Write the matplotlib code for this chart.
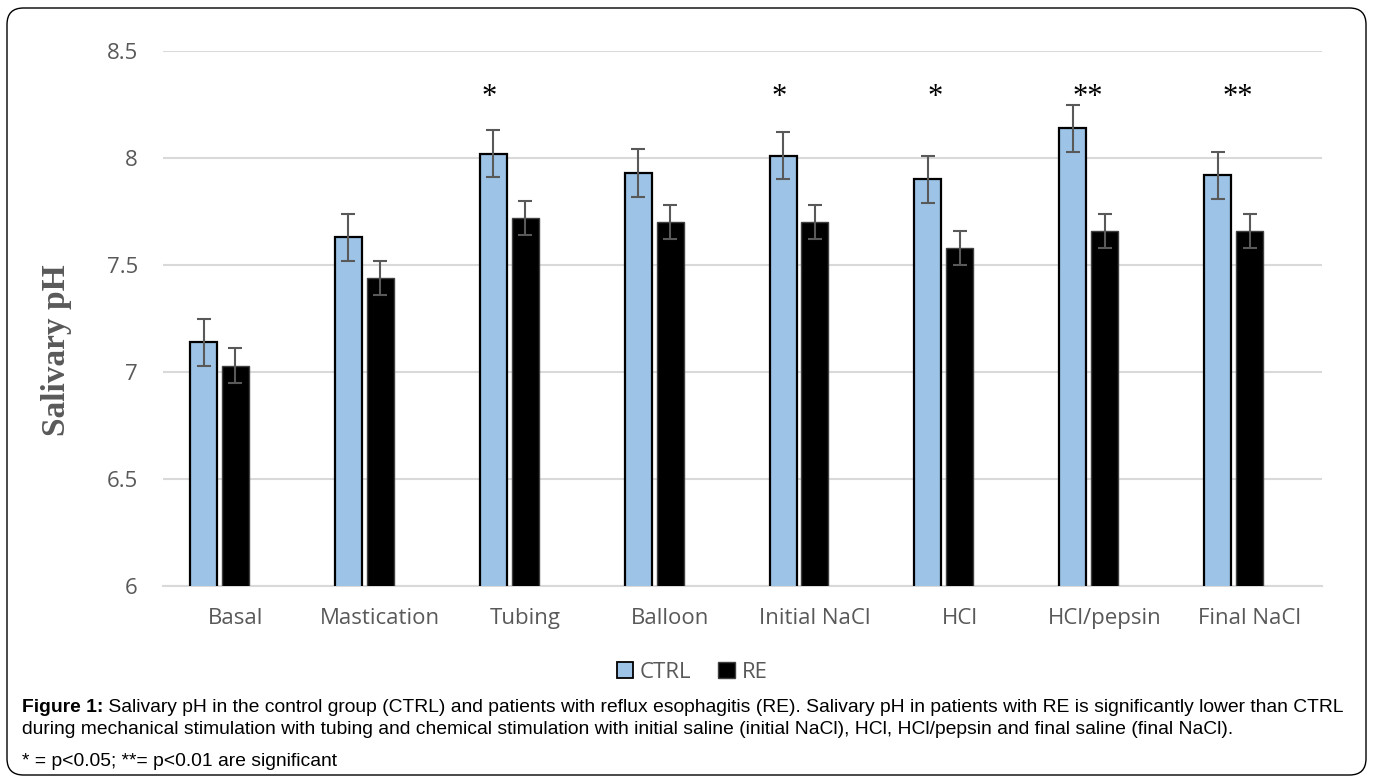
import matplotlib
matplotlib.use('Agg')
import matplotlib.pyplot as plt
from matplotlib.patches import FancyBboxPatch, Patch
import numpy as np

# Data
categories = ['Basal', 'Mastication', 'Tubing', 'Balloon', 'Initial NaCl',
              'HCl', 'HCl/pepsin', 'Final NaCl']
ctrl_mean = [7.14, 7.63, 8.02, 7.93, 8.01, 7.90, 8.14, 7.92]
ctrl_err = [0.11, 0.11, 0.11, 0.11, 0.11, 0.11, 0.11, 0.11]
re_mean = [7.03, 7.44, 7.72, 7.70, 7.70, 7.58, 7.66, 7.66]
re_err = [0.08, 0.08, 0.08, 0.08, 0.08, 0.08, 0.08, 0.08]
stars = ['', '', '*', '', '*', '*', '**', '**']
yticks = [6, 6.5, 7, 7.5, 8, 8.5]
ytick_labels = ['6', '6.5', '7', '7.5', '8', '8.5']

caption_bold = 'Figure 1:'
caption_1 = (' Salivary pH in the control group (CTRL) and patients with reflux esophagitis (RE). '
             'Salivary pH in patients with RE is significantly lower than CTRL')
caption_2 = ('during mechanical stimulation with tubing and chemical stimulation with initial saline '
             '(initial NaCl), HCl, HCl/pepsin and final saline (final NaCl).')
caption_3 = '* = p<0.05; **= p<0.01 are significant'

cap_font = 'Liberation Sans'
tick_font = 'Open Sans'
grey = '#595959'

fig = plt.figure(figsize=(13.73, 7.82), dpi=100)
fig.patch.set_facecolor('white')

# rounded frame around everything
frame = FancyBboxPatch((7 / 1373, 7 / 782), 1359 / 1373, 767 / 782,
                       boxstyle='round,pad=0,rounding_size=0.012',
                       transform=fig.transFigure, fill=False,
                       ec='black', lw=1.0, mutation_aspect=1373 / 782)
fig.patches.append(frame)

ax = fig.add_axes([163 / 1373, 196 / 782, 1159 / 1373, 535 / 782])

x = np.arange(len(categories))
w = 0.186
off = 0.22

ax.bar(x - off, ctrl_mean, width=w, color='#9dc3e6', edgecolor='black',
       linewidth=1.6, zorder=3)
ax.bar(x, re_mean, width=w, color='black', edgecolor='#404040',
       linewidth=1.0, zorder=3)
ax.errorbar(x - off, ctrl_mean, yerr=ctrl_err, fmt='none', ecolor=grey,
            elinewidth=1.5, capsize=4.8, capthick=1.5, zorder=4)
ax.errorbar(x, re_mean, yerr=re_err, fmt='none', ecolor=grey,
            elinewidth=1.5, capsize=4.8, capthick=1.5, zorder=4)

# significance marks above the control bars
star_shift = [0, 0, -0.03, 0, -0.03, 0.05, 0.1, 0.14]
for i, s in enumerate(stars):
    if s:
        ax.text(x[i] - off + star_shift[i], 8.285, s, ha='center', va='center',
                fontsize=22, family='Liberation Serif', color='black')

ax.set_xlim(-0.5, len(categories) - 0.5)
ax.set_ylim(6, 8.5)
ax.set_yticks(yticks)
ax.set_yticklabels(ytick_labels)
ax.set_xticks(x)
ax.set_xticklabels(categories)
ax.tick_params(axis='both', length=0, colors=grey, labelsize=16)
ax.tick_params(axis='y', pad=18)
ax.tick_params(axis='x', pad=16)
for lab in ax.get_xticklabels() + ax.get_yticklabels():
    lab.set_family(tick_font)

ax.grid(axis='y', color='#d9d9d9', lw=1.5, zorder=0)
for sp in ['top', 'right', 'left']:
    ax.spines[sp].set_visible(False)
ax.spines['bottom'].set_color('#d9d9d9')
ax.spines['bottom'].set_linewidth(1.5)

fig.text(57 / 1373, 1 - 350 / 782, 'Salivary pH', rotation=90, ha='center',
         va='center', fontsize=24, fontweight='bold', family='Liberation Serif',
         color=grey)

handles = [Patch(facecolor='#9dc3e6', edgecolor='black', lw=1.3, label='CTRL'),
           Patch(facecolor='black', edgecolor='#404040', lw=1.0, label='RE')]
fig.legend(handles=handles, loc='center', bbox_to_anchor=(692 / 1373, 1 - 672 / 782),
           ncol=2, frameon=False, handlelength=0.75, handleheight=0.75,
           handletextpad=0.3, columnspacing=1.2,
           prop={'family': tick_font, 'size': 16}, labelcolor=grey)

# caption
fs = 13.9
t = fig.text(22 / 1373, 1 - 708 / 782, caption_bold, ha='left', va='center',
             fontsize=fs, fontweight='bold', family=cap_font)
fig.canvas.draw()
bb = t.get_window_extent(renderer=fig.canvas.get_renderer())
fig.text(bb.x1 / fig.bbox.width, 1 - 708 / 782, caption_1, ha='left',
         va='center', fontsize=fs, family=cap_font)
fig.text(22 / 1373, 1 - 730 / 782, caption_2, ha='left', va='center',
         fontsize=fs, family=cap_font)
fig.text(22 / 1373, 1 - 761 / 782, caption_3, ha='left', va='center',
         fontsize=fs, family=cap_font)

fig.savefig('out.png', dpi=100)
